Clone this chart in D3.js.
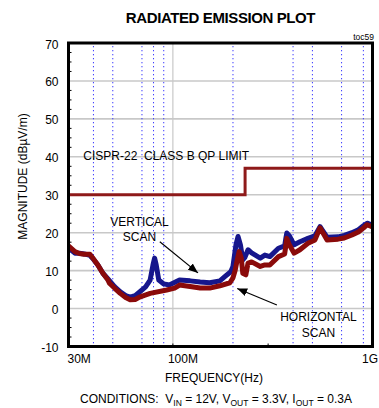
<!DOCTYPE html>
<html><head><meta charset="utf-8">
<script src="https://cdn.jsdelivr.net/npm/d3@7"></script>
<style>
html,body{margin:0;padding:0;background:#fff;}
svg{display:block;font-family:"Liberation Sans",Arial,Helvetica,sans-serif;}
text{white-space:pre;}
</style></head><body>
<svg id="c" width="379" height="408"></svg>
<script>
// ---------- data (frequency in MHz, magnitude in dBµV/m) ----------
const titleText = "RADIATED EMISSION PLOT";
const tocText = "toc59";
const xAxisTitle = "FREQUENCY(Hz)";
const yAxisTitle = "MAGNITUDE (dBµV/m)";

const freqV = [30,32.3,34,36,38.4,39.7,42.1,44.6,47.3,51,54.5,58,61.1,64.7,68.6,73,76.9,79.5,81,82.5,85,90,96,108,122,137,153,172,182,195,200,207,212,218,224,229,238,248,274,289,306,338,363,368,372,383,405,433,475,515,546,565,592,672,722,789,850,900,940,1000];
const magV  = [16,14.6,14.6,14.4,14,13.2,11.5,9.3,7.8,5.8,4.4,3.4,3,3.4,4.5,5.7,7.5,11.5,13.3,11.5,7.5,6.5,6.2,7.5,7.3,7,6.8,7.3,8.4,9.7,11.1,16.8,19,16.8,12.8,13.4,15.5,14.7,13.3,14.1,13.7,15.9,16.5,18.5,19.9,19.2,16.8,17.6,18.5,19.2,21.6,20.4,18.8,18.9,19.3,20,20.8,21.8,22.5,22];

const freqH = [30,32.3,34,36,38.4,39.7,42.1,44.6,47.3,48.1,51,54.5,58,61.1,64.7,68.6,76.9,93.1,102,108,122,137,153,172,193,200,205,210,214.7,220,224,232,238,248,274,289,306,338,363,368,372,383,405,433,475,515,546,565,592,672,722,789,850,900,940,1000];
const magH  = [16.5,15,14.5,14.3,14.3,13.3,11.5,9.3,7.5,6.7,5.4,4,2.9,2.3,2.4,3.1,4,4.9,5.4,6.2,5.8,5.4,5.4,6,6.8,8.1,10,12.8,15,13.4,9.3,8.9,12,12.3,11.1,11.5,11.5,13.7,14.4,16.5,18.5,16.8,14.6,15.5,17.2,18.1,21.3,19.9,18.1,18.3,18.6,19.4,20.2,21.2,22.1,21.5];

const limitFreq = [30,230,230,1000];
const limitMag  = [30,30,37,37];

const yTickValues = [-10,0,10,20,30,40,50,60,70];
const yGridValues = [0,10,20,30,40,50,60];
const yMinorValues = [-7.5,-5,-2.5,2.5,5,7.5,12.5,15,17.5,22.5,25,27.5,32.5,35,37.5,42.5,45,47.5,52.5,55,57.5,62.5,65,67.5];
const xTickFreq = [30,100,1000];
const xTickText = ["30M","100M","1G"];
const xGrayFreq = [100];
const xDottedFreq = [40,50,70,80,90,200,400,500,700,900];
const xMinorFreq = [100,300];

// annotations anchored in data coordinates
const limitLabel = {f:35.6, v:39.2, text:"CISPR-22  CLASS B QP LIMIT"};
const vertLabel = {f:68, v:[21.7,17.7], lines:["VERTICAL","SCAN"]};
const horLabel  = {f:536, v:[-3.4,-7.4], lines:["HORIZONTAL","SCAN"]};
const vertArrow = {f0:86, v0:17.6, f1:133.6, v1:9.4};
const horArrow  = {f0:332, v0:0.95, f1:210, v1:5.3};

// ---------- layout ----------
const W = 379, H = 408;
const L = 68.5, R = 372.5, T = 43, B = 346.5;
const x = d3.scaleLog().domain([30,1000]).range([L,R]);
const y = d3.scaleLinear().domain([-10,70]).range([B,T]);

const svg = d3.select("#c");
svg.append("rect").attr("width",W).attr("height",H).attr("fill","#fff");
const defs = svg.append("defs");
defs.append("clipPath").attr("id","clip").append("rect")
  .attr("x",L).attr("y",T).attr("width",R-L).attr("height",B-T);
defs.append("marker").attr("id","ah").attr("markerUnits","userSpaceOnUse")
  .attr("markerWidth",10).attr("markerHeight",8).attr("refX",10).attr("refY",4)
  .attr("orient","auto")
  .append("path").attr("d","M0,0 L10,4 L0,8 Z").attr("fill","#000");

// gridlines
svg.append("g").selectAll("line").data(yGridValues).join("line")
  .attr("x1",L).attr("x2",R).attr("y1",d=>y(d)).attr("y2",d=>y(d))
  .attr("stroke","#c8c8c8").attr("stroke-width",1.6);
svg.append("g").selectAll("line").data(xGrayFreq).join("line")
  .attr("x1",d=>x(d)).attr("x2",d=>x(d)).attr("y1",T).attr("y2",B)
  .attr("stroke","#c8c8c8").attr("stroke-width",1.2);
svg.append("g").selectAll("line").data(xDottedFreq).join("line")
  .attr("x1",d=>x(d)).attr("x2",d=>x(d)).attr("y1",T+3).attr("y2",B)
  .attr("stroke","#3a3aff").attr("stroke-width",1).attr("stroke-dasharray","1.3,2.7");

// minor ticks
svg.append("g").selectAll("line").data(yMinorValues).join("line")
  .attr("x1",L).attr("x2",L+3).attr("y1",d=>y(d)).attr("y2",d=>y(d))
  .attr("stroke","#000").attr("stroke-width",1);
svg.append("g").selectAll("line").data(xMinorFreq).join("line")
  .attr("x1",d=>x(d)).attr("x2",d=>x(d)).attr("y1",B).attr("y2",B-3)
  .attr("stroke","#000").attr("stroke-width",1);

// traces
const plot = svg.append("g").attr("clip-path","url(#clip)");
const lineGen = d3.line().x(d=>x(d[0])).y(d=>y(d[1]));
plot.append("path").datum(d3.zip(freqV,magV)).attr("d",lineGen)
  .attr("fill","none").attr("stroke","#16168c").attr("stroke-width",5)
  .attr("stroke-linejoin","round");
plot.append("path").datum(d3.zip(freqH,magH)).attr("d",lineGen)
  .attr("fill","none").attr("stroke","#8a0a0a").attr("stroke-width",5)
  .attr("stroke-linejoin","round");
plot.append("path").datum(d3.zip(limitFreq,limitMag)).attr("d",lineGen)
  .attr("fill","none").attr("stroke","#8e1a1a").attr("stroke-width",3);

// border
svg.append("rect").attr("x",L).attr("y",T).attr("width",R-L).attr("height",B-T)
  .attr("fill","none").attr("stroke","#000").attr("stroke-width",3);

// y tick labels
svg.append("g").selectAll("text").data(yTickValues).join("text")
  .attr("x",L-10).attr("y",d=>y(d)+5.5).attr("text-anchor","end")
  .attr("font-size",12).attr("fill","#000").text(d=>d);

// x tick labels
const xAnchor = ["start","start","end"];
const xDx = [-1,-5,5.5];
svg.append("g").selectAll("text").data(xTickFreq).join("text")
  .attr("x",(d,i)=>x(d)+xDx[i]).attr("y",362.5).attr("text-anchor",(d,i)=>xAnchor[i])
  .attr("font-size",12).attr("fill","#000").text((d,i)=>xTickText[i]);

// titles
svg.append("text").attr("x",220.5).attr("y",22.5).attr("text-anchor","middle")
  .attr("font-size",15).attr("font-weight","bold").attr("letter-spacing",-0.4)
  .text(titleText);
svg.append("text").attr("x",374).attr("y",40).attr("text-anchor","end")
  .attr("font-size",8.5).text(tocText);
svg.append("text").attr("x",214).attr("y",381.5).attr("text-anchor","middle")
  .attr("font-size",12).text(xAxisTitle);
svg.append("text").attr("transform","translate(26.5,176.5) rotate(-90)")
  .attr("text-anchor","middle").attr("font-size",12).text(yAxisTitle);

// conditions line with subscripts
const cond = svg.append("text").attr("x",216).attr("y",403).attr("text-anchor","middle").attr("font-size",12);
const condParts = [["CONDITIONS:  V",0],["IN",1],[" = 12V, V",0],["OUT",1],[" = 3.3V, I",0],["OUT",1],[" = 0.3A",0]];
let prevSub = 0;
condParts.forEach(([t,s])=>{
  const ts = cond.append("tspan").text(t);
  if (s) ts.attr("font-size",8.5).attr("dy",3);
  else if (prevSub) ts.attr("dy",-3);
  prevSub = s;
});

// annotations
svg.append("text").attr("x",x(limitLabel.f)).attr("y",y(limitLabel.v))
  .attr("font-size",12).text(limitLabel.text);
[vertLabel,horLabel].forEach(lb=>{
  lb.lines.forEach((t,i)=>{
    svg.append("text").attr("x",x(lb.f)).attr("y",y(lb.v[i]))
      .attr("text-anchor","middle").attr("font-size",12).text(t);
  });
});
[vertArrow,horArrow].forEach(a=>{
  svg.append("line").attr("x1",x(a.f0)).attr("y1",y(a.v0))
    .attr("x2",x(a.f1)).attr("y2",y(a.v1))
    .attr("stroke","#000").attr("stroke-width",1.2).attr("marker-end","url(#ah)");
});
</script>
</body></html>
